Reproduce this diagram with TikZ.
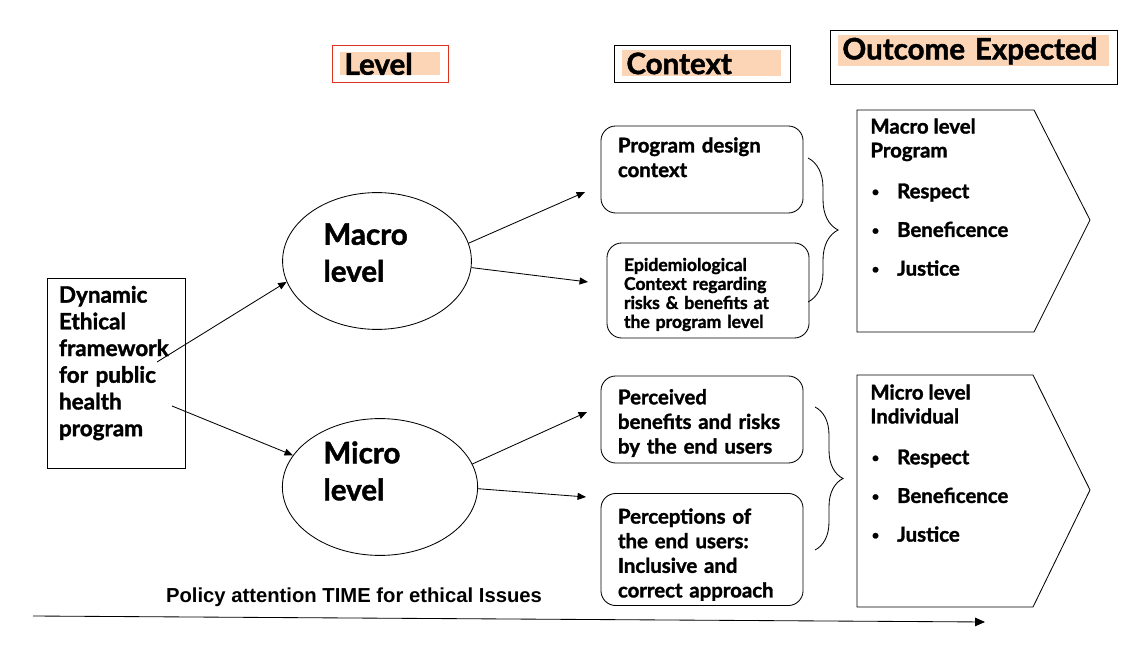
\documentclass[tikz,border=0pt]{standalone}
\usepackage{fontspec}
\setmainfont{Lato}[BoldFeatures={FakeBold=1.5}]
\newfontfamily\arialfont{Liberation Sans}
\usetikzlibrary{arrows.meta, positioning, shapes.geometric, decorations.pathreplacing, calc}
\definecolor{peach}{RGB}{251,213,181}
\definecolor{hdrred}{RGB}{220,50,30}
\newcommand{\outitem}[1]{\makebox[19pt][l]{\hspace{1pt}\raisebox{1.5pt}{\fontsize{9}{9}\selectfont\textbullet}}#1}

\begin{document}
\begin{tikzpicture}[
  x=0.025cm, y=-0.025cm,
  line width=0.6pt,
  hdr/.style={fill=peach, anchor=north west, inner xsep=0.1cm, inner ysep=0pt,
              align=left, font=\fontsize{21}{24}\selectfont\bfseries},
  ctxbox/.style={rectangle, draw, rounded corners=0.37cm, minimum width=5.05cm,
                 text width=4.2cm, inner xsep=0.425cm, align=left,
                 font=\fontsize{14.5}{17.5}\selectfont\bfseries},
  lvl/.style={ellipse, draw, minimum height=3.42cm},
  lvltxt/.style={anchor=north west, inner sep=0pt, align=left,
                 font=\fontsize{21}{26.3}\selectfont\bfseries},
  outtxt/.style={anchor=north west, inner sep=0pt, align=left,
                 font=\fontsize{14.5}{17}\selectfont\bfseries},
  arr/.style={-{Triangle[length=6pt, width=5pt]}}
]
  \useasboundingbox (0,0) rectangle (1136,661);

  % headers
  \draw[hdrred] (332,45) rectangle (448,82);
  \node[hdr, minimum height=0.575cm, text width=2.3cm] (lvlhead) at (340,52) {Level};
  \draw (614,45) rectangle (790,82);
  \node[hdr, minimum height=0.65cm, text width=3.775cm] (ctxhead) at (622,50) {Context};
  \draw (830,30) rectangle (1117,84);
  \node[hdr, minimum height=0.775cm, text width=6.55cm] (outhead) at (838,35) {Outcome Expected};

  % framework and levels
  \node[rectangle, draw, minimum width=3.45cm, minimum height=4.75cm, text width=2.85cm,
        inner xsep=0.3cm, align=left, font=\fontsize{16}{19}\selectfont\bfseries]
        (frame) at (116,373) {Dynamic\\Ethical\\framework\\for public\\health\\program\\[-2pt]\mbox{}};
  \node[lvl, minimum width=4.72cm] (macro) at (377,261) {};
  \node[lvltxt] (macrotxt) at (323,223) {Macro\\level};
  \node[lvl, minimum width=4.88cm] (micro) at (380,487) {};
  \node[lvltxt] (microtxt) at (323,441) {Micro\\level};

  % context
  \node[ctxbox, minimum height=2.175cm] (ctx1) at (702,169.5) {Program design\\context\\ \mbox{}};
  \node[ctxbox, minimum height=2.375cm, font=\fontsize{12.5}{13.5}\selectfont\bfseries]
        (ctx2) at (708,290.5) {\mbox{}\\[1.5pt]Epidemiological\\Context regarding\\risks \& benefits at\\the program level};
  \node[ctxbox, minimum height=2.175cm] (ctx3) at (702,419.5) {\mbox{}\\[-1.7pt]Perceived\\benefits and risks\\by the end users};
  \node[ctxbox, minimum height=2.775cm] (ctx4) at (702,549.5) {\mbox{}\\[0.6pt]Perceptions of\\the end users:\\Inclusive and\\correct approach};

  \draw[decorate, decoration={brace, amplitude=0.75cm}] (808,158) -- (808,302);
  \draw[decorate, decoration={brace, amplitude=0.7cm}] (815,407) -- (815,550);

  % outcomes
  \draw (857,110) -- (1034,110) -- (1090,220) -- (1034,332) -- (857,332) -- cycle;
  \node[outtxt] (outmacro) at (870,118) {Macro level\\Program\\[12pt]\outitem{Respect}\\[10.5pt]\outitem{Beneficence}\\[10.5pt]\outitem{Justice}};
  \draw (857,375) -- (1033,375) -- (1090,490) -- (1033,607) -- (857,607) -- cycle;
  \node[outtxt] (outmicro) at (870,384) {Micro level\\Individual\\[12pt]\outitem{Respect}\\[10.5pt]\outitem{Beneficence}\\[10.5pt]\outitem{Justice}};

  % arrows
  \coordinate (fr1) at (157,362);
  \coordinate (fr2) at (172,406);
  \coordinate (c1) at (585,192);
  \coordinate (c2) at (588,282);
  \coordinate (c3) at (587,412);
  \coordinate (c4) at (586,497);
  \foreach \a/\b in {fr1/macro.193, fr2/micro.160, macro.11/c1, macro.356/c2, micro.14/c3, micro.359/c4}{
    \draw[arr] (\a) -- (\b);
  }

  % time line
  \coordinate (t0) at (33,616);
  \coordinate (t1) at (985,622);
  \draw[-{Triangle[length=7pt, width=6pt]}] (t0) -- (t1);
  \node[anchor=base, font=\arialfont\fontsize{14.4}{16}\selectfont\bfseries] (timelbl) at (354,602) {Policy attention TIME for ethical Issues};
\end{tikzpicture}
\end{document}
